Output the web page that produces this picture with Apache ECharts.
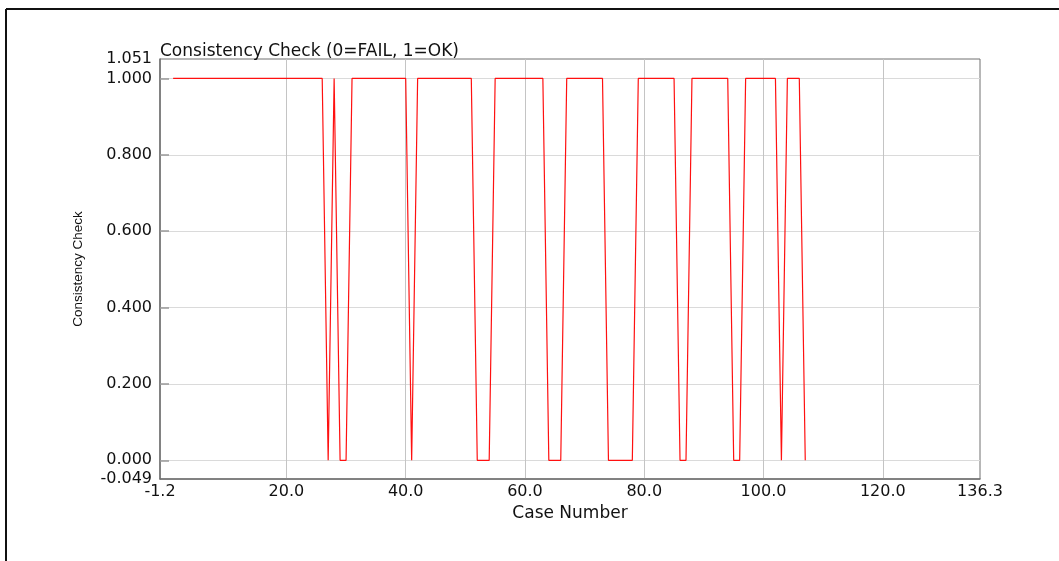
<!DOCTYPE html>
<html>
<head>
<meta charset="utf-8">
<script src="https://cdn.jsdelivr.net/npm/echarts@6/dist/echarts.min.js"></script>
<style>
html,body{margin:0;padding:0;background:#fff;}
#chart{width:1059px;height:561px;}
</style>
</head>
<body>
<div id="chart"></div>
<script>
// Case numbers and consistency check result (0=FAIL, 1=OK)
const caseNumbers = [];
for (let i = 1; i <= 107; i++) caseNumbers.push(i);
const checkValues = [
  1,1,1,1,1,1,1,1,1,1, 1,1,1,1,1,1,1,1,1,1, 1,1,1,1,1,1,   // 1-26
  0,                                                      // 27
  1,                                                      // 28
  0,0,                                                    // 29-30
  1,1,1,1,1,1,1,1,1,1,                                    // 31-40
  0,                                                      // 41
  1,1,1,1,1,1,1,1,1,1,                                    // 42-51
  0,0,0,                                                  // 52-54
  1,1,1,1,1,1,1,1,1,                                      // 55-63
  0,0,0,                                                  // 64-66
  1,1,1,1,1,1,1,                                          // 67-73
  0,0,0,0,0,                                              // 74-78
  1,1,1,1,1,1,1,                                          // 79-85
  0,0,                                                    // 86-87
  1,1,1,1,1,1,1,                                          // 88-94
  0,0,                                                    // 95-96
  1,1,1,1,1,1,                                            // 97-102
  0,                                                      // 103
  1,1,1,                                                  // 104-106
  0                                                       // 107
];
const xMin = -1.2, xMax = 136.3;
const yMin = -0.049, yMax = 1.051;
const xLabelValues = [-1.2, 20, 40, 60, 80, 100, 120, 136.3];
const xGridValues = [20, 40, 60, 80, 100, 120];
const yLabelValues = [-0.049, 0, 0.2, 0.4, 0.6, 0.8, 1.0, 1.051];
const yGridValues = [0, 0.2, 0.4, 0.6, 0.8, 1.0];
const titleText = 'Consistency Check (0=FAIL, 1=OK)';
const xName = 'Case Number';
const yName = 'Consistency Check';

const seriesData = caseNumbers.map((c, i) => [c, checkValues[i]]);

const chart = echarts.init(document.getElementById('chart'), null, {renderer: 'canvas'});
const font = '"DejaVu Sans", Arial, sans-serif';
chart.setOption({
  animation: false,
  backgroundColor: '#fff',
  title: {
    text: titleText,
    left: 160, top: 43,
    padding: 0,
    textStyle: {fontFamily: font, fontSize: 17, fontWeight: 'normal', color: '#111'}
  },
  grid: {
    left: 160, right: 79, top: 59, bottom: 82,
    show: true, borderColor: '#707070', borderWidth: 1, backgroundColor: 'transparent',
    containLabel: false
  },
  xAxis: {
    type: 'value', min: xMin, max: xMax,
    name: xName, nameLocation: 'middle', nameGap: 25,
    nameTextStyle: {fontFamily: font, fontSize: 17, color: '#111'},
    axisLine: {show: true, onZero: false, lineStyle: {color: '#707070', width: 1.5}},
    axisTick: {show: false, customValues: xGridValues},
    axisLabel: {
      customValues: xLabelValues, margin: 5,
      fontFamily: font, fontSize: 16, color: '#111',
      formatter: v => v.toFixed(1)
    },
    splitLine: {show: true, lineStyle: {color: '#c4c4c4', width: 1}}
  },
  yAxis: {
    type: 'value', min: yMin, max: yMax,
    name: yName, nameLocation: 'middle', nameGap: 75,
    nameTextStyle: {fontFamily: '"Liberation Sans Narrow", "Liberation Sans", Arial, sans-serif', fontSize: 13.5, color: '#111'},
    axisLine: {show: true, onZero: false, lineStyle: {color: '#707070', width: 1.5}},
    axisTick: {show: true, inside: true, length: 9, customValues: yGridValues, lineStyle: {color: '#999', width: 1.5}},
    axisLabel: {
      customValues: yLabelValues, margin: 8,
      fontFamily: font, fontSize: 16, color: '#111',
      formatter: v => v.toFixed(3)
    },
    splitLine: {show: true, lineStyle: {color: '#dadada', width: 1}}
  },
  series: [{
    type: 'line',
    data: seriesData,
    showSymbol: false,
    symbol: 'none',
    lineStyle: {color: '#ff1010', width: 1.2},
    z: 3
  }],
  graphic: [
    {type: 'line', shape: {x1: 6, y1: 9, x2: 1059, y2: 9}, style: {stroke: '#111', lineWidth: 2}},
    {type: 'line', shape: {x1: 6, y1: 9, x2: 6, y2: 561}, style: {stroke: '#111', lineWidth: 2}}
  ]
});
</script>
</body>
</html>
